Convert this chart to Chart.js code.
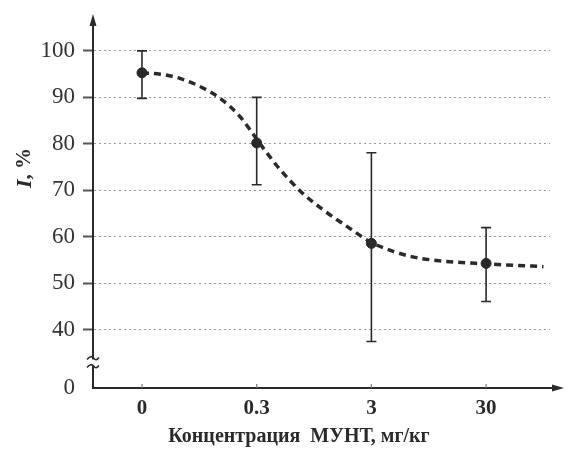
<!DOCTYPE html>
<html lang="ru">
<head>
  <meta charset="UTF-8" />
  <title>I, % vs МУНТ</title>
  <script src="https://cdn.jsdelivr.net/npm/chart.js"></script>
  <style>
    html, body { margin: 0; padding: 0; background: #fff; }
    #wrap { width: 568px; height: 450px; position: relative; }
  </style>
</head>
<body>
  <div id="wrap"><canvas id="chart"></canvas></div>

  <script>
    // categories on the x axis (concentration, mg/kg)
    const xLabels = ["0", "0.3", "3", "30"];
    const xTitle = "Концентрация  МУНТ, мг/кг";
    // measured means and error bar ends, I %
    const meanI = [95.3, 80.2, 58.6, 54.3];
    const errHigh = [100, 90, 78.1, 62];
    const errLow = [89.8, 71.2, 37.5, 46.1];
    // fitted dashed curve (x in category units)
    const fitX = [0, 0.16, 0.33, 0.51, 0.68, 0.85, 1.03, 1.2, 1.4, 1.58, 1.79, 2.0, 2.19, 2.36, 2.62, 3.0, 3.5];
    const fitY = [95.3, 95.0, 94.1, 92.3, 89.8, 86.0, 80.0, 74.6, 69.4, 65.8, 62.2, 58.8, 56.9, 55.7, 54.8, 54.2, 53.6];
    // y ticks; the bottom one sits below the axis break and reads "0"
    const yTicks = [27.5, 40, 50, 60, 70, 80, 90, 100];
    const yTickLabels = ["0", "40", "50", "60", "70", "80", "90", "100"];

    const serif = "'Liberation Serif', 'DejaVu Serif', serif";
    const ink = "#2a2a2a";

    const axesPlugin = {
      id: "axesExtras",
      afterDraw(chart) {
        const { ctx, chartArea: a, scales: { x, y } } = chart;
        ctx.save();
        ctx.strokeStyle = ink;
        ctx.fillStyle = ink;
        ctx.lineWidth = 2;

        // y axis arrow
        ctx.beginPath();
        ctx.moveTo(a.left, a.top);
        ctx.lineTo(a.left, a.top - 10);
        ctx.stroke();
        ctx.beginPath();
        ctx.moveTo(a.left, a.top - 16);
        ctx.lineTo(a.left - 3.5, a.top - 4);
        ctx.lineTo(a.left + 3.5, a.top - 4);
        ctx.closePath();
        ctx.fill();

        // x axis arrow
        ctx.beginPath();
        ctx.moveTo(a.right, a.bottom);
        ctx.lineTo(a.right + 8, a.bottom);
        ctx.stroke();
        ctx.beginPath();
        ctx.moveTo(a.right + 14, a.bottom);
        ctx.lineTo(a.right + 2, a.bottom - 3.5);
        ctx.lineTo(a.right + 2, a.bottom + 3.5);
        ctx.closePath();
        ctx.fill();

        // axis break
        const yb = y.getPixelForValue(33);
        ctx.fillStyle = "#fff";
        ctx.fillRect(a.left - 3, yb - 3, 6, 6);
        ctx.lineWidth = 1.6;
        [-4, 4].forEach(d => {
          ctx.beginPath();
          ctx.moveTo(a.left - 6, yb + d + 1);
          ctx.quadraticCurveTo(a.left - 2, yb + d - 4, a.left + 1, yb + d);
          ctx.quadraticCurveTo(a.left + 3, yb + d + 3, a.left + 6, yb + d - 1);
          ctx.stroke();
        });

        // small ticks on x axis
        ctx.lineWidth = 1.2;
        ctx.strokeStyle = "#777";
        xLabels.forEach((_, i) => {
          const px = x.getPixelForValue(i);
          ctx.beginPath();
          ctx.moveTo(px, a.bottom);
          ctx.lineTo(px, a.bottom - 4);
          ctx.stroke();
        });

        // error bars
        ctx.strokeStyle = ink;
        ctx.lineWidth = 1.6;
        meanI.forEach((_, i) => {
          const px = x.getPixelForValue(i);
          const hi = y.getPixelForValue(errHigh[i]);
          const lo = y.getPixelForValue(errLow[i]);
          ctx.beginPath();
          ctx.moveTo(px, hi); ctx.lineTo(px, lo);
          ctx.moveTo(px - 5, hi); ctx.lineTo(px + 5, hi);
          ctx.moveTo(px - 5, lo); ctx.lineTo(px + 5, lo);
          ctx.stroke();
        });

        // x title
        ctx.fillStyle = ink;
        ctx.textAlign = "center";
        ctx.textBaseline = "middle";
        ctx.font = "bold 20px " + serif;
        ctx.fillText(xTitle, 299, 437);

        // y title: "I, %"
        ctx.translate(25, 168);
        ctx.rotate(-Math.PI / 2);
        ctx.textAlign = "left";
        ctx.font = "italic bold 22px " + serif;
        const wI = ctx.measureText("I").width;
        const rest = ", %";
        ctx.font = "bold 21px " + serif;
        const wR = ctx.measureText(rest).width;
        const start = -(wI + wR) / 2;
        ctx.font = "italic bold 22px " + serif;
        ctx.fillText("I", start, 0);
        ctx.font = "bold 21px " + serif;
        ctx.fillText(rest, start + wI, 0);
        ctx.restore();
      }
    };

    new Chart(document.getElementById("chart"), {
      type: "scatter",
      data: {
        datasets: [
          {
            type: "line",
            data: fitX.map((v, i) => ({ x: v, y: fitY[i] })),
            borderColor: ink,
            borderWidth: 3.5,
            borderDash: [7, 5],
            pointRadius: 0,
            cubicInterpolationMode: "monotone",
            fill: false,
            order: 2
          },
          {
            data: meanI.map((v, i) => ({ x: i, y: v })),
            backgroundColor: ink,
            borderColor: ink,
            pointRadius: 5,
            order: 1
          }
        ]
      },
      options: {
        responsive: true,
        maintainAspectRatio: false,
        animation: false,
        layout: { padding: { top: 30, right: 18, left: 0, bottom: 0 } },
        plugins: { legend: { display: false }, tooltip: { enabled: false } },
        scales: {
          x: {
            type: "linear",
            min: -0.427,
            max: 3.557,
            afterBuildTicks: s => { s.ticks = xLabels.map((_, i) => ({ value: i })); },
            afterFit: s => { s.height = 62; },
            ticks: {
              callback: v => xLabels[v],
              color: ink,
              font: { family: serif, size: 21, weight: "bold" },
              padding: 8,
              maxRotation: 0
            },
            grid: { display: false, drawTicks: false },
            border: { display: true, color: ink, width: 2 }
          },
          y: {
            min: 27.5,
            max: 104.5,
            afterBuildTicks: s => { s.ticks = yTicks.map(v => ({ value: v })); },
            afterFit: s => { s.width = 93; },
            ticks: {
              callback: (v, i) => yTickLabels[i],
              color: "#333",
              font: { family: serif, size: 23 },
              padding: 8
            },
            grid: {
              color: ctx => ctx.tick && ctx.tick.value < 35 ? "rgba(0,0,0,0)" : "#9a9a9a",
              lineWidth: 1,
              tickLength: 10,
              tickColor: ctx => ctx.tick && ctx.tick.value < 35 ? "rgba(0,0,0,0)" : "#555",
              tickWidth: 2
            },
            border: { display: true, color: ink, width: 2, dash: [2, 3] }
          }
        }
      },
      plugins: [axesPlugin]
    });
  </script>
</body>
</html>
